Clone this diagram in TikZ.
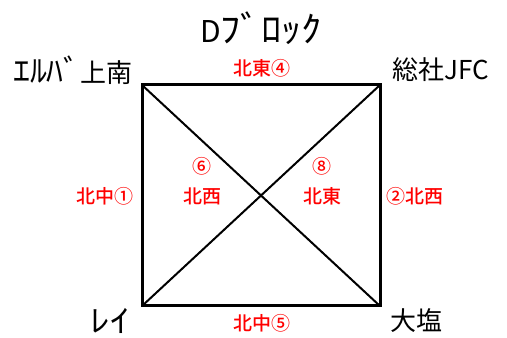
\documentclass[tikz,border=0pt]{standalone}
\usepackage{fontspec}
\usepackage{graphicx}
\newfontfamily\jp{Noto Sans CJK JP}
\newfontfamily\jpm{Noto Sans CJK JP Medium}
\newcommand{\hk}[2][1.3]{\scalebox{#1}[1.2]{#2}}
\tikzset{
  blk/.style={font={\jp\fontsize{26}{30}\selectfont}, text=black, inner sep=0pt, anchor=center},
  ttl/.style={font={\jp\fontsize{30}{34}\selectfont}, text=black, inner sep=0pt, anchor=center},
  red/.style={font={\jpm\fontsize{19}{22}\selectfont}, text=red, inner sep=0pt, anchor=center},
  edge/.style={line width=3pt, line cap=rect},
  diag/.style={line width=2pt},
}
\begin{document}
\begin{tikzpicture}[x=1pt,y=1pt]
\useasboundingbox (0,0) rectangle (507,338);
\fill[white] (0,0) rectangle (507,338);
\coordinate (tl) at (142,253);
\coordinate (tr) at (380,253);
\coordinate (bl) at (142,32);
\coordinate (br) at (380,32);
\draw[diag] (tl) -- (br);
\draw[diag] (tr) -- (bl);
\draw[edge] (tl) -- (tr) -- (br) -- (bl) -- cycle;
\node[ttl] (title) at (261,310) {D\hk[1.35]{ﾌﾞﾛｯｸ}};
\node[blk] (a) at (73,268) {\hk{ｴﾙﾊﾞ}上南};
\node[blk] (b) at (441,268) {総社JFC};
\node[blk] (c) at (110,17) {\hk[1.5]{ﾚｲ}};
\node[blk] (d) at (416,17) {大塩};
\node[red] (e4) at (262,270) {北東④};
\node[red] (e1) at (105,142) {北中①};
\node[red] (e2) at (415,142) {②北西};
\node[red] (e5) at (262,15) {北中⑤};
\node[red] (n6) at (202,172) {⑥};
\node[red] (w6) at (202,142) {北西};
\node[red] (n8) at (322,172) {⑧};
\node[red] (w8) at (322,142) {北東};
\end{tikzpicture}
\end{document}
